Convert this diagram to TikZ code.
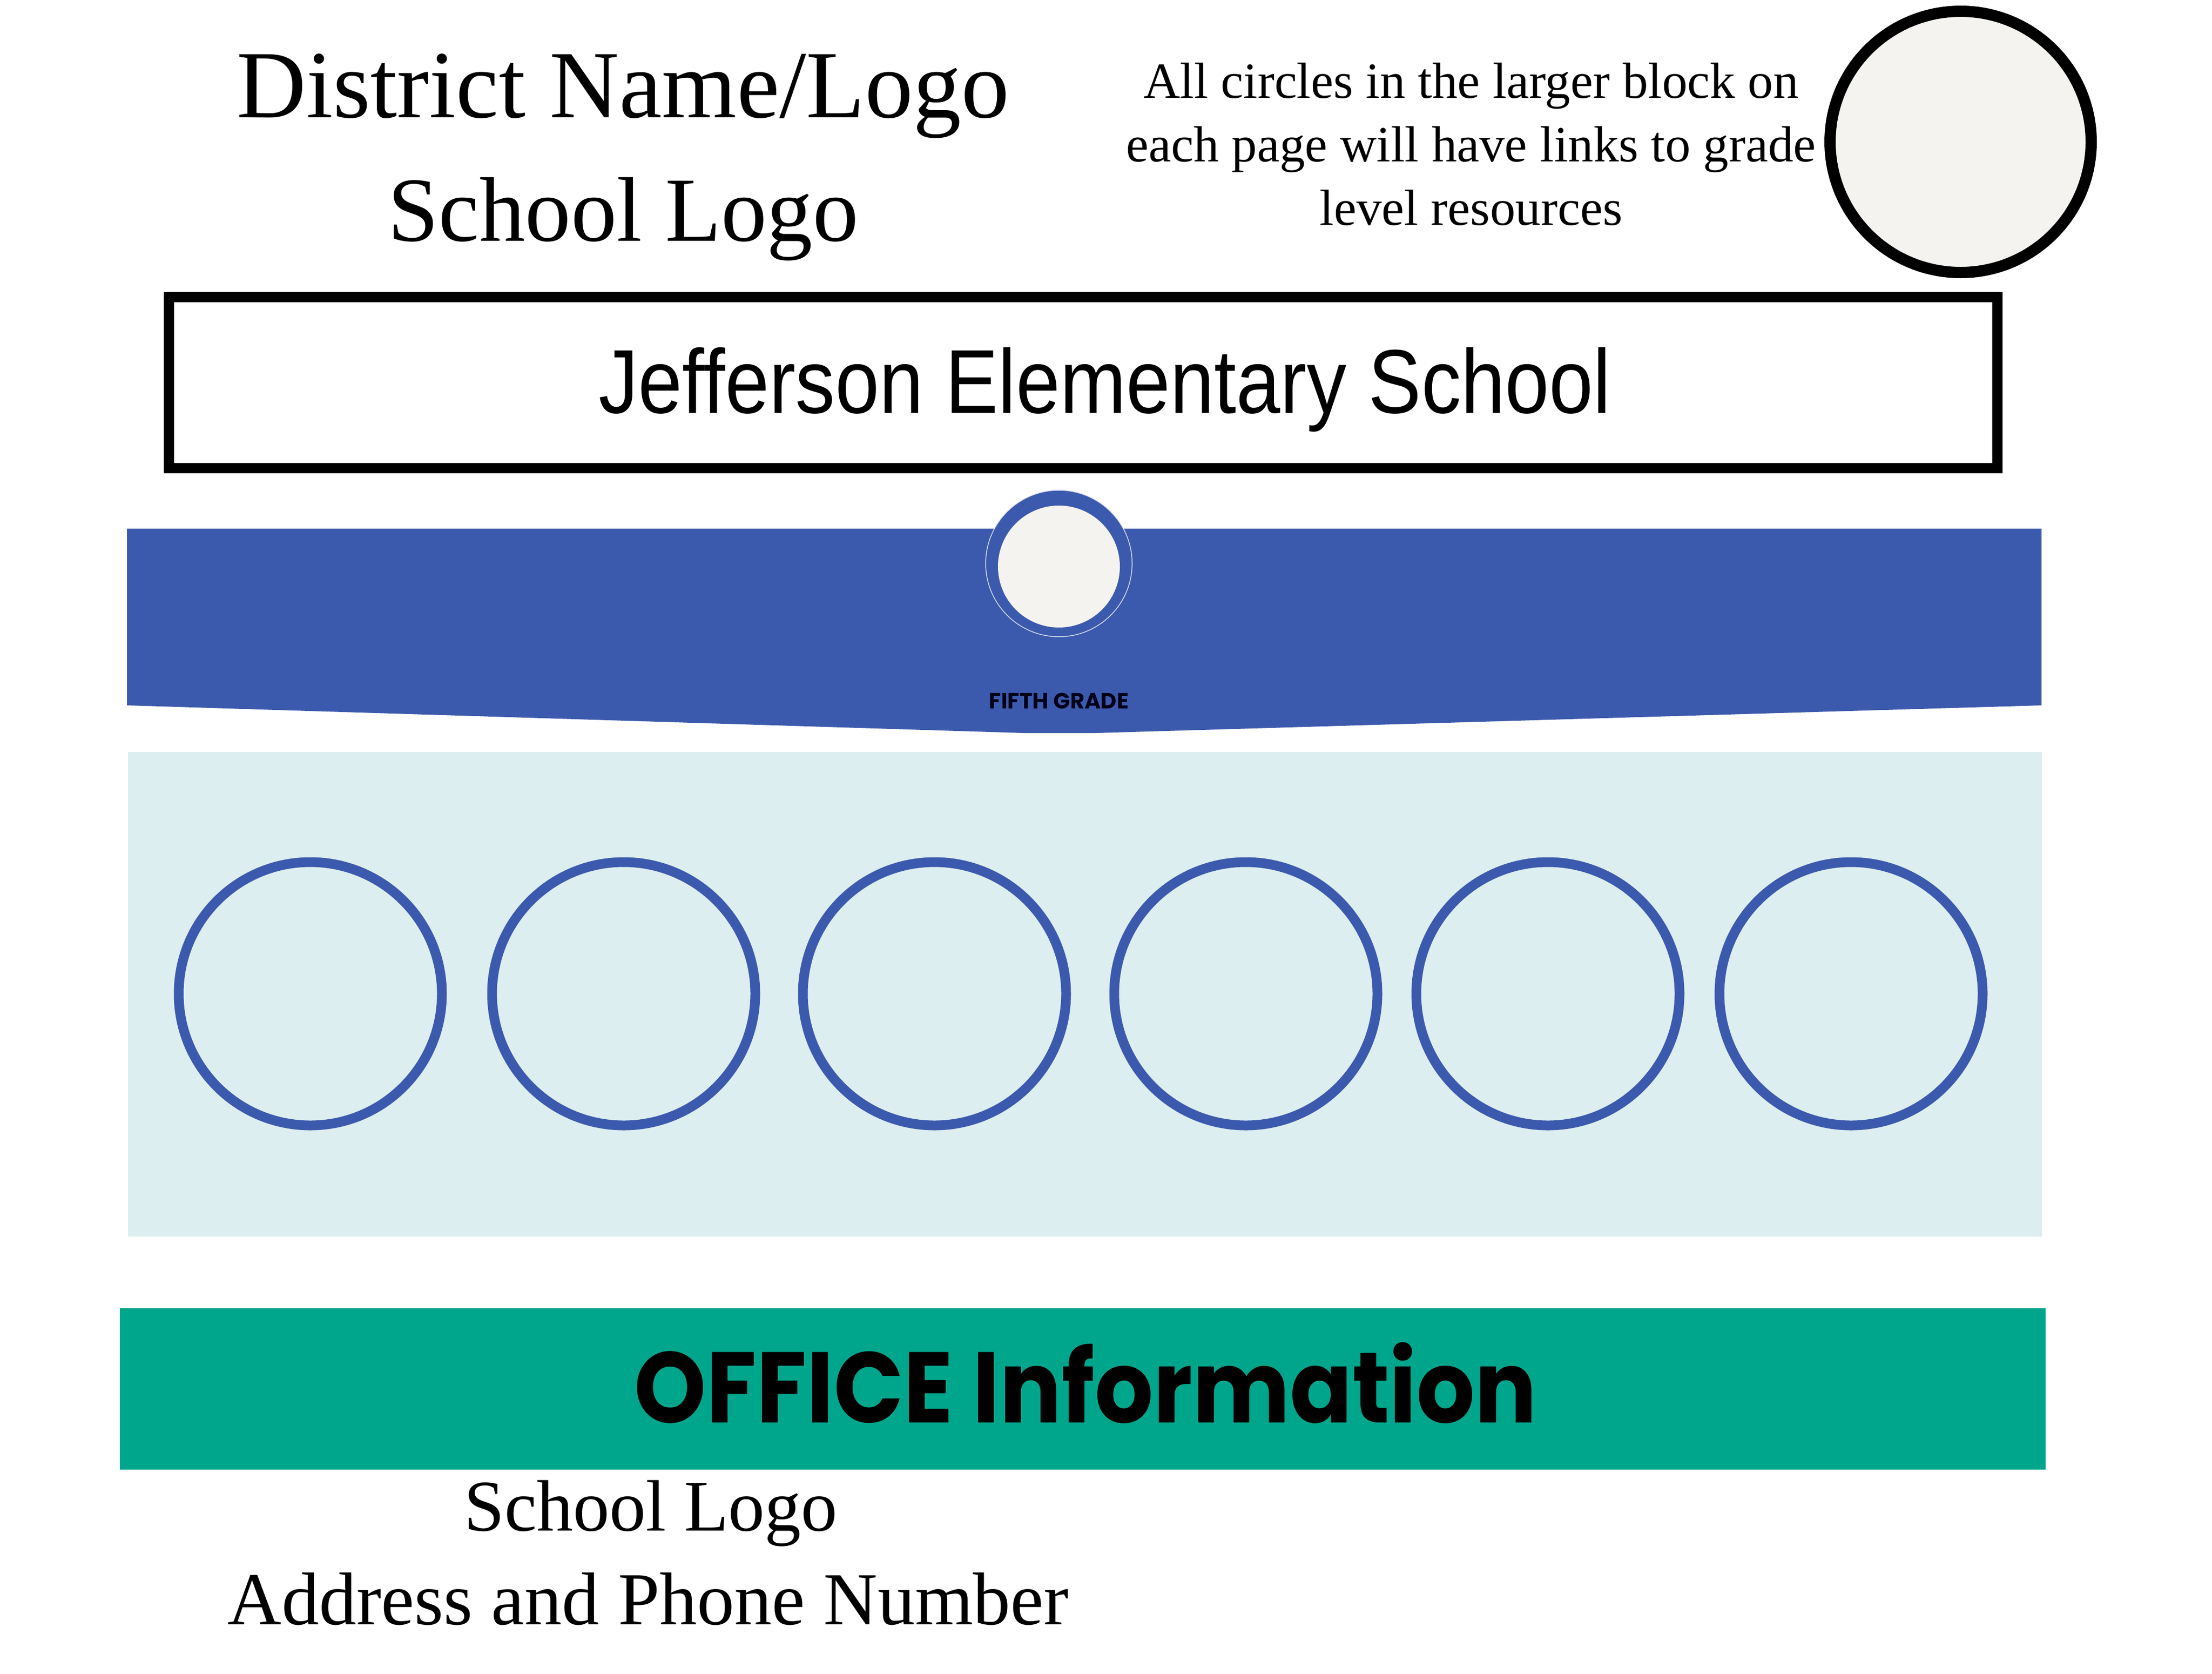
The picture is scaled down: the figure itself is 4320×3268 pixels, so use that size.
\documentclass[tikz,border=0pt]{standalone}
\usepackage{fontspec}
\usepackage{graphicx}
\setmainfont{Liberation Serif}
\newfontfamily\jsans{Liberation Sans}
\newfontfamily\popfont{Poppins}
\definecolor{bandblue}{HTML}{3C5AAD}
\definecolor{paleblue}{HTML}{DDEEF0}
\definecolor{officeteal}{HTML}{00A68B}
\definecolor{offwhite}{HTML}{F5F3F0}
\begin{document}
\begin{tikzpicture}[x=1pt,y=-1pt,
  txt/.style={inner sep=0pt, outer sep=0pt, anchor=base},
  linkcircle/.style={circle, draw=bandblue, line width=19pt, minimum size=514pt, inner sep=0pt},
]
\useasboundingbox (0,0) rectangle (4320,3268);
\fill[white] (0,0) rectangle (4320,3268);

% header texts
\node[txt, font={\fontsize{188}{224}\selectfont}] (district) at (1217,229) {District Name/Logo};
\node[txt, font={\fontsize{179}{214}\selectfont}] (schoollogotop) at (1217,470) {School Logo};
\node[txt, align=center, font={\fontsize{99}{124}\selectfont}] (note) at (2873,439)
  {All circles in the larger block on\\each page will have links to grade\\level resources};

% big circle top right
\node[circle, draw=black, line width=22pt, fill=offwhite, minimum size=510pt, inner sep=0pt] (bigcircle) at (3829,277) {};

% school name box
\node[draw=black, line width=20pt, minimum width=3571pt, minimum height=334pt, inner sep=0pt] (namebox) at (2115.5,747) {};
\node[txt, font={\jsans\fontsize{177}{212}\selectfont}] (schoolname) at (2158,806) {\scalebox{0.875}[1]{Jefferson Elementary School}};

% blue grade band
\fill[bandblue] (248,1032) -- (3987,1032) -- (3987,1377) -- (2140,1431) -- (2000,1431) -- (248,1377) -- cycle;
\node[circle, fill=bandblue, draw=white!80!bandblue, line width=1.5pt, minimum size=286pt, inner sep=0pt] (gradering) at (2068,1100) {};
\node[circle, fill=offwhite, minimum size=238pt, inner sep=0pt] (gradecircle) at (2068,1106) {};
\node[txt, font={\popfont\bfseries\fontsize{43}{50}\selectfont}, text=black!90!blue] (fifth) at (2068,1383) {FIFTH GRADE};

% pale panel with six link circles
\fill[paleblue] (250,1468) rectangle (3988,2414);
\node[linkcircle] (c1) at (606,1940) {};
\node[linkcircle] (c2) at (1218,1940) {};
\node[linkcircle] (c3) at (1825,1940) {};
\node[linkcircle] (c4) at (2433,1940) {};
\node[linkcircle] (c5) at (3023,1940) {};
\node[linkcircle] (c6) at (3615,1940) {};

% office bar
\node[fill=officeteal, minimum width=3761pt, minimum height=315pt, inner sep=0pt] (officebar) at (2114.5,2711.5) {};
\node[txt, font={\popfont\bfseries\fontsize{196}{230}\selectfont}] (officetext) at (2120,2777) {\scalebox{0.915}[1]{OFFICE Information}};

% footer texts
\node[txt, font={\fontsize{142}{170}\selectfont}] (schoollogobottom) at (1271,2988) {School Logo};
\node[txt, font={\fontsize{146}{175}\selectfont}] (address) at (1266,3171) {Address and Phone Number};
\end{tikzpicture}
\end{document}
